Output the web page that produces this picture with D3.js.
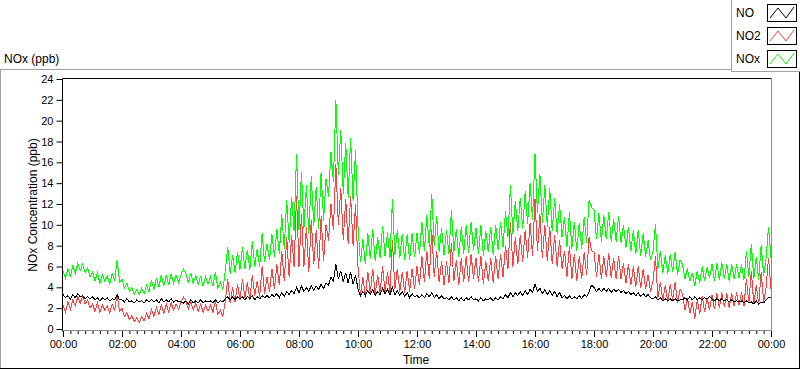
<!DOCTYPE html>
<html><head><meta charset="utf-8">
<script src="https://cdn.jsdelivr.net/npm/d3@7"></script>
<style>
html,body{margin:0;padding:0;background:#fff;}
svg{display:block;font-family:"Liberation Sans",Arial,sans-serif;}
</style></head>
<body><svg id="c" width="800" height="369"></svg>
<script>
// ---- data (5-minute samples, 00:00 .. 24:00) ----
const seriesNames = ["NO", "NO2", "NOx"];
const sampleMinutes = 5;
const noVals = [
3.3,3.0,3.2,2.9,3.3,3.0,3.4,3.1,3.2,2.9,3.1,2.9,
3.1,2.8,3.0,2.7,3.0,2.8,3.0,2.7,2.9,2.8,3.3,2.8,
2.8,2.6,2.9,2.6,2.7,2.5,2.8,2.6,2.7,2.5,2.8,2.6,
2.8,2.6,2.8,2.5,2.9,2.6,2.8,2.6,2.9,2.6,2.8,2.6,
2.6,2.5,2.7,2.4,2.8,2.5,2.7,2.5,2.8,2.5,2.7,2.6,
2.7,2.5,2.8,2.5,2.7,2.6,2.9,3.1,2.8,3.1,2.8,3.1,
2.9,3.1,2.8,3.1,2.9,3.2,2.8,3.1,2.9,3.2,3.0,3.2,
3.0,3.3,3.1,3.4,3.0,3.5,3.1,3.6,3.3,3.7,3.4,4.0,
3.5,4.1,3.6,4.0,3.6,4.2,3.7,4.1,3.8,4.3,3.9,4.4,
4.2,5.0,4.6,6.2,4.8,5.6,4.5,5.4,4.4,5.5,4.3,5.2,
3.8,3.2,3.6,3.2,3.7,3.3,3.8,3.2,3.6,3.3,3.9,3.4,
3.8,3.3,4.0,3.3,3.7,3.2,3.6,3.1,3.5,3.0,3.4,3.1,
3.2,3.0,3.3,3.0,3.4,3.1,3.5,3.0,3.3,2.9,3.2,2.9,
3.0,2.8,3.1,2.8,3.0,2.7,3.0,2.7,3.0,2.8,3.1,2.8,
2.9,2.7,3.0,2.7,2.9,2.8,3.0,2.7,3.0,2.8,3.1,2.9,
3.3,3.0,3.5,3.1,3.5,3.2,3.6,3.2,3.7,3.3,3.8,3.5,
4.3,3.6,3.9,3.4,3.8,3.3,3.7,3.2,3.6,3.1,3.5,3.0,
3.2,2.9,3.2,2.9,3.1,2.9,3.2,2.9,3.3,3.1,3.6,4.2,
4.0,3.6,3.9,3.6,3.9,3.6,3.9,3.5,3.8,3.6,3.8,3.5,
3.7,3.4,3.6,3.3,3.5,3.2,3.5,3.1,3.4,3.1,3.3,3.0,
2.9,3.1,2.8,3.0,2.7,2.9,2.7,2.9,2.7,2.9,2.7,2.8,
2.8,3.0,2.8,3.1,2.8,3.1,2.8,3.0,2.8,3.0,2.9,3.1,
2.9,2.7,2.9,2.7,2.9,2.7,2.8,2.6,2.8,2.6,2.7,2.6,
2.7,2.5,2.7,2.5,2.6,2.4,2.7,2.4,2.6,2.5,2.8,3.0,
3.0];
const no2Vals = [
2.3,1.6,2.6,1.9,2.8,2.2,3.1,2.5,3.2,2.4,2.8,2.0,
2.4,1.7,2.5,1.6,2.3,1.8,2.2,1.5,2.4,1.8,3.3,1.7,
2.0,1.2,1.6,0.9,1.3,0.7,1.1,0.6,1.2,0.8,1.5,1.0,
1.9,1.2,2.1,1.4,2.3,1.5,2.4,1.6,2.5,1.8,2.4,1.9,
2.6,3.1,2.7,1.9,2.6,1.8,2.5,1.7,2.4,1.6,2.3,1.7,
2.3,1.6,2.7,1.4,1.8,1.2,2.6,4.8,2.5,4.0,2.6,4.3,
2.8,4.8,3.0,4.5,2.8,5.2,3.2,4.6,3.1,6.0,3.4,5.0,
3.6,5.8,3.8,6.2,4.2,7.5,4.6,8.8,5.0,9.0,6.0,12.8,
6.0,11.0,6.0,9.8,5.5,10.5,6.2,9.5,5.8,10.8,6.5,10.0,
8.5,12.0,9.5,15.8,10.0,13.5,8.5,12.5,8.2,12.8,8.0,12.0,
6.0,3.2,5.0,3.0,5.5,3.4,5.8,3.3,5.2,3.5,6.0,3.6,
5.5,3.5,8.5,3.8,5.8,3.6,5.5,3.5,5.6,3.6,5.8,3.8,
6.0,4.2,7.0,4.5,7.5,4.8,9.5,5.0,7.5,4.5,6.5,4.2,
6.5,4.4,8.3,4.6,6.6,4.2,6.8,4.5,7.0,4.5,7.2,4.8,
6.8,4.5,7.0,4.3,6.5,4.6,6.8,4.4,7.0,4.8,7.2,5.0,
8.0,5.8,10.3,6.0,8.8,6.2,9.0,6.4,9.5,6.8,10.2,7.0,
12.5,7.5,11.0,6.8,10.0,6.5,9.8,6.2,9.0,6.0,8.5,5.8,
7.5,5.0,8.0,4.8,7.2,4.6,7.0,4.8,7.4,5.2,8.8,7.5,
7.4,5.0,7.2,4.8,7.0,5.0,7.3,4.9,6.8,4.8,7.0,4.8,
6.3,4.4,6.2,4.2,6.0,4.0,6.0,3.9,5.8,3.8,5.2,3.6,
4.6,7.0,3.0,4.5,2.7,4.2,2.6,4.3,2.8,4.5,2.5,3.8,
3.4,1.8,3.0,1.5,2.6,1.0,2.8,1.4,3.2,1.6,3.0,1.8,
3.3,1.9,3.4,2.0,3.5,2.1,3.4,2.0,3.4,2.2,3.5,2.3,
3.5,2.2,4.8,2.5,5.6,2.4,4.2,2.3,5.5,2.6,4.0,6.8,
3.8];
const noxVals = [
5.6,4.9,5.8,5.0,6.1,5.3,6.3,5.6,6.2,5.4,5.9,5.0,
5.5,4.6,5.4,4.4,5.2,4.6,5.1,4.3,5.3,4.6,6.6,4.5,
4.8,3.9,4.4,3.6,4.0,3.3,3.8,3.3,3.9,3.4,4.2,3.6,
4.7,3.8,4.9,4.0,5.2,4.1,5.2,4.2,5.3,4.4,5.2,4.5,
5.2,5.8,5.3,4.4,5.4,4.3,5.2,4.2,5.1,4.1,5.0,4.3,
5.0,4.1,5.5,3.9,4.5,3.8,5.5,7.9,5.3,7.1,5.4,7.4,
5.7,7.9,5.8,7.6,5.7,8.4,6.0,7.7,6.0,9.2,6.4,8.2,
6.6,9.1,6.9,9.6,7.2,11.0,7.7,12.4,8.3,12.7,9.4,16.8,
9.5,15.1,9.6,13.8,9.1,14.7,9.9,13.6,9.6,15.1,10.4,14.4,
12.7,17.0,14.1,22.0,14.8,19.1,13.0,17.9,12.6,18.3,12.3,17.2,
9.8,6.4,8.6,6.2,9.2,6.7,9.6,6.5,8.8,6.8,9.9,7.0,
9.3,6.8,12.5,7.1,9.5,6.8,9.1,6.6,9.1,6.6,9.2,6.9,
9.2,7.2,10.3,7.5,10.9,7.9,13.0,8.0,10.8,7.4,9.7,7.1,
9.5,7.2,11.4,7.4,9.6,6.9,9.8,7.2,10.0,7.3,10.3,7.6,
9.7,7.2,10.0,7.0,9.4,7.4,9.8,7.1,10.0,7.6,10.3,7.9,
11.3,8.8,13.8,9.1,12.3,9.4,12.6,9.6,13.2,10.1,14.0,10.5,
16.8,11.1,14.9,10.2,13.8,9.8,13.5,9.4,12.6,9.1,12.0,8.8,
10.7,7.9,11.2,7.7,10.3,7.5,10.2,7.7,10.7,8.3,12.4,11.7,
11.4,8.6,11.1,8.4,10.9,8.6,11.2,8.4,10.6,8.4,10.8,8.3,
10.0,7.8,9.8,7.5,9.5,7.2,9.5,7.0,9.2,6.9,8.5,6.6,
7.5,10.1,5.8,7.5,5.4,7.1,5.3,7.2,5.5,7.4,5.2,6.6,
6.2,4.8,5.8,4.6,5.4,4.1,5.6,4.4,6.0,4.6,5.9,4.9,
6.2,4.6,6.3,4.7,6.4,4.8,6.2,4.6,6.2,4.8,6.2,4.9,
6.2,4.7,7.5,5.0,8.2,4.8,6.9,4.7,8.1,5.1,6.8,9.8,
6.8];
const seriesColors = ["#000000", "#ff4040", "#00ff00"];
const yTickValues = [0,2,4,6,8,10,12,14,16,18,20,22,24];

// ---- layout ----
const svg = d3.select("#c");
const pLeft = 62.5, pRight = 771.5, pTop = 78.5, pBottom = 330.5;
const t0 = new Date(2000, 0, 1, 0, 0), t1 = new Date(2000, 0, 2, 0, 0);
const x = d3.scaleTime().domain([t0, t1]).range([63, 771]);
const y = d3.scaleLinear().domain([0, 24]).range([329, 79]);

// outer panel frame
svg.append("line").attr("x1", 0).attr("x2", 731).attr("y1", 69.5).attr("y2", 69.5).attr("stroke", "#a0a0a0");
svg.append("line").attr("x1", 0.5).attr("x2", 0.5).attr("y1", 69.5).attr("y2", 368).attr("stroke", "#a0a0a0");
svg.append("line").attr("x1", 0).attr("x2", 800).attr("y1", 368.5).attr("y2", 368.5).attr("stroke", "#000");
svg.append("line").attr("x1", 799.5).attr("x2", 799.5).attr("y1", 71).attr("y2", 369).attr("stroke", "#000");

svg.append("text").attr("x", 4).attr("y", 63).attr("font-size", 12).attr("fill", "#000").text("NOx (ppb)");

// plot area
svg.append("rect").attr("x", pLeft).attr("y", pTop).attr("width", pRight - pLeft).attr("height", pBottom - pTop).attr("fill", "#fff");
svg.append("clipPath").attr("id", "clip").append("rect").attr("x", pLeft + 0.5).attr("y", pTop + 0.5).attr("width", pRight - pLeft - 1).attr("height", pBottom - pTop - 1);

const toPoints = vals => vals.map((v, i) => ({t: new Date(t0.getTime() + i * sampleMinutes * 60000), v}));
const line = d3.line().x(d => x(d.t)).y(d => y(d.v));
const allSeries = [noVals, no2Vals, noxVals];
const g = svg.append("g").attr("clip-path", "url(#clip)");
[2, 1, 0].forEach(k => {
  g.append("path").datum(toPoints(allSeries[k])).attr("d", line)
    .attr("fill", "none").attr("stroke", seriesColors[k]).attr("stroke-width", 1)
    .attr("shape-rendering", "crispEdges");
});

// plot borders
svg.append("line").attr("x1", pRight).attr("x2", pRight).attr("y1", pTop).attr("y2", pBottom).attr("stroke", "#8c8c8c");
svg.append("line").attr("x1", pLeft).attr("x2", pRight).attr("y1", pBottom).attr("y2", pBottom).attr("stroke", "#8c8c8c");
svg.append("line").attr("x1", pLeft).attr("x2", pRight).attr("y1", pTop).attr("y2", pTop).attr("stroke", "#000");
svg.append("line").attr("x1", pLeft).attr("x2", pLeft).attr("y1", pTop).attr("y2", pBottom + 1).attr("stroke", "#000");

// y axis
const yAxis = d3.axisLeft(y).tickValues(yTickValues).tickSize(6).tickPadding(3);
const yg = svg.append("g").attr("transform", `translate(${pLeft},0)`).call(yAxis);
yg.select(".domain").remove();
yg.selectAll(".tick line").attr("stroke", "#000");
yg.selectAll(".tick text").attr("font-size", 11).attr("fill", "#000").attr("font-family", "Liberation Sans, Arial, sans-serif");

// x axis: minor ticks every 15 min, major every 2 h
const xMinor = d3.axisBottom(x).ticks(d3.timeMinute.every(15)).tickSize(3).tickFormat("");
const xm = svg.append("g").attr("transform", `translate(0,${pBottom + 0.5})`).call(xMinor);
xm.select(".domain").remove();
xm.selectAll(".tick line").attr("stroke", "#000");
const xAxis = d3.axisBottom(x).ticks(d3.timeHour.every(2)).tickSize(6).tickPadding(3).tickFormat(d3.timeFormat("%H:%M"));
const xg = svg.append("g").attr("transform", `translate(0,${pBottom + 0.5})`).call(xAxis);
xg.select(".domain").remove();
xg.selectAll(".tick line").attr("stroke", "#000");
xg.selectAll(".tick text").attr("font-size", 11).attr("fill", "#000").attr("font-family", "Liberation Sans, Arial, sans-serif");

// axis titles
svg.append("text").attr("x", 416).attr("y", 364).attr("text-anchor", "middle").attr("font-size", 12).attr("fill", "#000").text("Time");
svg.append("text").attr("transform", "translate(37,205) rotate(-90)").attr("text-anchor", "middle").attr("font-size", 12).attr("fill", "#000").text("NOx Concentration (ppb)");

// legend
const lg = svg.append("g");
lg.append("rect").attr("x", 731.5).attr("y", -1).attr("width", 70).attr("height", 72.5).attr("fill", "#fff").attr("stroke", "#a0a0a0");
const rows = [13, 36, 59];
seriesNames.forEach((name, i) => {
  const cy = rows[i];
  lg.append("text").attr("x", 736).attr("y", cy + 4).attr("font-size", 12).attr("fill", "#000").text(name);
  lg.append("rect").attr("x", 767.5).attr("y", cy - 8.5).attr("width", 29).attr("height", 17).attr("fill", "#fff").attr("stroke", "#000");
  const zig = [[770, cy + 5], [778, cy - 5], [786, cy + 5], [794, cy - 6]];
  lg.append("path").attr("d", d3.line()(zig)).attr("fill", "none").attr("stroke", seriesColors[i]).attr("stroke-width", 1);
});
</script>
</body></html>
